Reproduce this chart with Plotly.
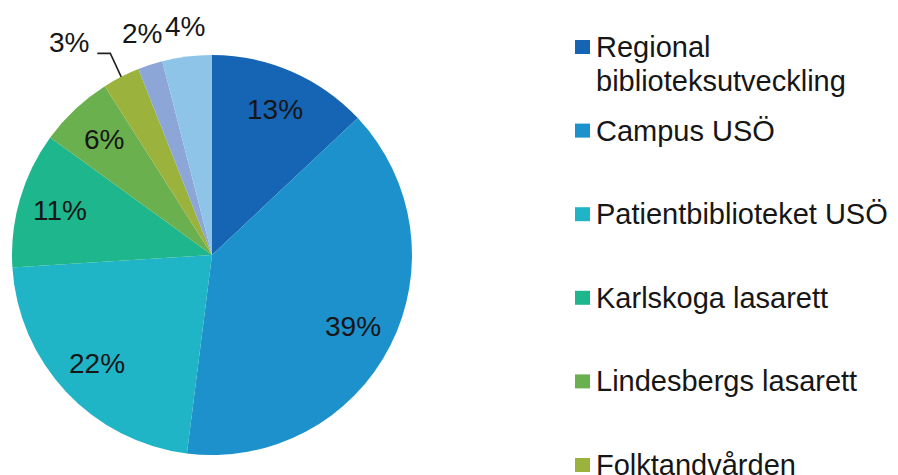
import math
import plotly.graph_objects as go

labels = ["Regional<br>biblioteksutveckling", "Campus USÖ", "Patientbiblioteket USÖ",
          "Karlskoga lasarett", "Lindesbergs lasarett", "Folktandvården",
          "Övrig verksamhet", "Gemensamt"]
values = [13, 39, 22, 11, 6, 3, 2, 4]
colors = ["#1664B4", "#1C91CB", "#1FB4C6", "#1EB68C", "#6AB04E", "#9BB23C", "#8DA6D8", "#8DC4E8"]
label_outside = [False, False, False, False, False, True, True, True]
label_leader = [False, False, False, False, False, True, False, False]

# page offset (browser body margin) and figure size
OFF = 8
W, H = 898 - OFF, 475 - OFF
FONT = "Arial, Liberation Sans, sans-serif"
TXT = "#161616"

# pie geometry in screen pixels
CX, CY, R = 212, 255, 200


def px(x):
    return (x - OFF) / W


def py(y):
    return 1 - (y - OFF) / H


fig = go.Figure()
fig.add_trace(go.Pie(
    labels=labels,
    values=values,
    sort=False,
    direction="clockwise",
    rotation=0,
    marker=dict(colors=colors, line=dict(width=0)),
    textinfo="none",
    domain=dict(x=[px(CX - R), px(CX + R)], y=[py(CY + R), py(CY - R)]),
    showlegend=False,
    automargin=False,
    hovertemplate="%{label}: %{percent:.0%}<extra></extra>",
))

annotations = []
shapes = []

# percentage labels placed along each slice bisector
total = sum(values)
cum = 0
for v, outside, leader in zip(values, label_outside, label_leader):
    mid = (cum + v / 2) / total
    cum += v
    th = 2 * math.pi * mid
    s, c = math.sin(th), math.cos(th)
    txt = f"{round(100 * v / total)}%"
    if not outside:
        r = 0.79 * R
        annotations.append(dict(xref="paper", yref="paper", x=px(CX + r * s), y=py(CY - r * c),
                                xanchor="center", yanchor="middle", showarrow=False, text=txt,
                                font=dict(family=FONT, size=28, color=TXT)))
    elif not leader:
        # label box just outside the edge point, pushed along the bisector
        ex, ey = CX + R * s, CY - R * c
        d = 16.5 + abs(s) * 20 + abs(c) * 10
        annotations.append(dict(xref="paper", yref="paper", x=px(ex + d * s + 2), y=py(ey - d * c - 1),
                                xanchor="center", yanchor="middle", showarrow=False, text=txt,
                                font=dict(family=FONT, size=28, color=TXT)))
    else:
        ex, ey = CX + R * s, CY - R * c
        bx, by = CX + 1.12 * R * s, CY - 1.12 * R * c - 2
        hx = bx - 13
        shapes.append(dict(type="path", xref="paper", yref="paper",
                           path=f"M {px(ex)} {py(ey)} L {px(bx)} {py(by)} L {px(hx)} {py(by)}",
                           line=dict(color="#222222", width=1.6)))
        annotations.append(dict(xref="paper", yref="paper", x=px(hx - 6), y=py(by - 11),
                                xanchor="right", yanchor="middle", showarrow=False, text=txt,
                                font=dict(family=FONT, size=28, color=TXT)))

# Legend drawn as squares + text (the reference legend is clipped at the bottom)
LEG_Y0, LEG_STEP, LINE_H = 47, 83.6, 34
for i, (lab, col) in enumerate(zip(labels, colors)):
    yc = LEG_Y0 + i * LEG_STEP
    shapes.append(dict(type="rect", xref="paper", yref="paper",
                       x0=px(575), x1=px(590), y0=py(yc + 7), y1=py(yc - 7),
                       fillcolor=col, line=dict(width=0)))
    for j, line in enumerate(lab.split("<br>")):
        annotations.append(dict(xref="paper", yref="paper", x=px(594), y=py(yc + j * LINE_H),
                                xanchor="left", yanchor="middle", align="left", showarrow=False,
                                text=line, font=dict(family=FONT, size=29, color=TXT)))

fig.update_layout(
    width=W, height=H,
    margin=dict(l=0, r=0, t=0, b=0),
    paper_bgcolor="white", plot_bgcolor="white",
    shapes=shapes, annotations=annotations,
    font=dict(family=FONT),
)

fig.write_html("out.html")
